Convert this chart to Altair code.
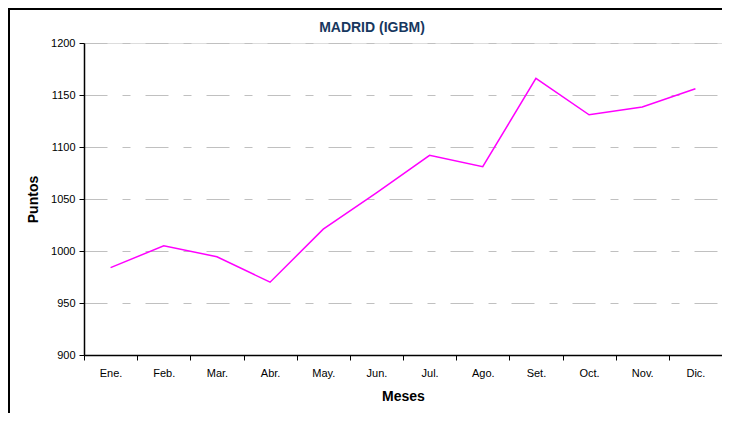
import altair as alt
import pandas as pd

meses = ["Ene.", "Feb.", "Mar.", "Abr.", "May.", "Jun.", "Jul.", "Ago.", "Set.", "Oct.", "Nov.", "Dic."]
puntos = [984, 1005, 994.5, 970, 1021, 1056, 1092, 1081, 1166, 1131, 1138.5, 1156]
titulo = ["MADRID (IGBM)"]

df = pd.DataFrame({"Meses": meses, "Puntos": puntos})
df_title = pd.DataFrame({"t": titulo})

FONT = "Liberation Sans"
W = 638
H = 312

x_enc = alt.X(
    "Meses:N",
    sort=meses,
    bandPosition=0.5,
    scale=alt.Scale(type="band", paddingInner=0, paddingOuter=0),
    axis=alt.Axis(
        title="Meses",
        labelAngle=0,
        tickBand="extent",
        grid=False,
        domainColor="black",
        domainWidth=1.5,
        tickColor="black",
        tickSize=5,
        labelPadding=7,
        labelFontSize=11,
        labelFont=FONT,
        labelColor="black",
        titleFont=FONT,
        titleFontSize=14,
        titleFontWeight="bold",
        titleColor="black",
        titlePadding=11,
    ),
)

y_enc = alt.Y(
    "Puntos:Q",
    scale=alt.Scale(domain=[900, 1200], nice=False, zero=False),
    axis=alt.Axis(
        title="Puntos",
        values=[900, 950, 1000, 1050, 1100, 1150, 1200],
        format="d",
        grid=True,
        gridColor="#c0c0c0",
        gridDash=[23, 15, 8, 15],
        gridWidth=1,
        domainColor="black",
        domainWidth=1.5,
        tickColor="black",
        tickSize=5,
        labelPadding=4,
        labelFontSize=11,
        labelFont=FONT,
        labelColor="black",
        titleFont=FONT,
        titleFontSize=14,
        titleFontWeight="bold",
        titleColor="black",
        titlePadding=10,
    ),
)

frame = alt.Chart(df).mark_rect(fillOpacity=0, stroke="black", strokeWidth=1.5).encode(
    x=alt.value(-75), x2=alt.value(900), y=alt.value(-34), y2=alt.value(600)
)

title = alt.Chart(df_title).mark_text(
    font=FONT, fontSize=14, fontWeight="bold", color="#17375E", align="center", baseline="alphabetic"
).encode(text="t:N", x=alt.value(288), y=alt.value(-11))

line = alt.Chart(df).mark_line(color="#FF00FF", strokeWidth=1.5).encode(x=x_enc, y=y_enc)

chart = alt.layer(frame, line, title).properties(
    width=W,
    height=H,
    padding={"left": 76, "top": 35, "right": 0, "bottom": 58},
    autosize=alt.AutoSizeParams(type="none"),
).configure_view(stroke="#a0a0a0", strokeWidth=1).configure(background="white")

chart.save("out.html", embed_options={"renderer": "svg", "actions": False})
